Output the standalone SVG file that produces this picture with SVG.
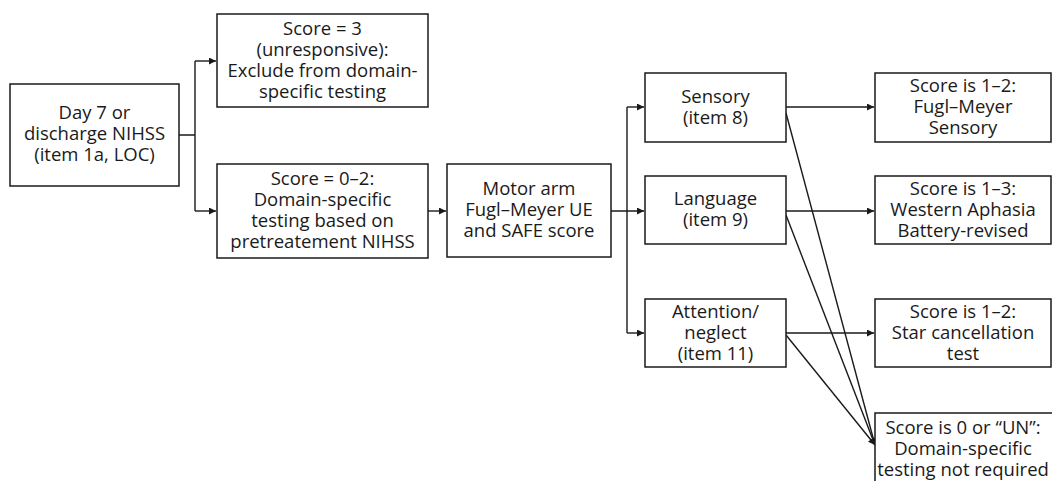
<svg xmlns="http://www.w3.org/2000/svg" width="1052" height="481" viewBox="0 0 1052 481">
  <defs>
    <style>
      .box { fill: #ffffff; stroke: #1a1a1a; stroke-width: 1.5; }
      .lbl { font-family: "Open Sans", "Noto Sans", "Liberation Sans", sans-serif; font-size: 18.5px; fill: #1a1a1a; text-anchor: middle; }
      .wire { fill: none; stroke: #1a1a1a; stroke-width: 1.4; }
      .arrow { marker-end: url(#head); }
    </style>
    <marker id="head" viewBox="0 0 10 10" refX="10" refY="5" markerWidth="7" markerHeight="7" markerUnits="userSpaceOnUse" orient="auto">
      <path d="M0,0 L10,5 L0,10 z" fill="#1a1a1a"/>
    </marker>
  </defs>
  <rect width="1052" height="481" fill="#ffffff"/>

  <!-- connectors -->
  <g id="connectors">
    <path class="wire" d="M179,135 H195 M195,61 V211"/>
    <path class="wire arrow" d="M195,61 H216"/>
    <path class="wire arrow" d="M195,211 H216"/>
    <path class="wire arrow" d="M428,211 H446"/>
    <path class="wire arrow" d="M611,211 H644"/>
    <path class="wire" d="M627,107 V333"/>
    <path class="wire arrow" d="M627,107 H644"/>
    <path class="wire arrow" d="M627,333 H644"/>
    <path class="wire arrow" d="M786,107 H874"/>
    <path class="wire arrow" d="M786,211 H874"/>
    <path class="wire arrow" d="M786,333 H874"/>
    <path class="wire arrow" d="M786,113 L875,445"/>
    <path class="wire arrow" d="M786,215 L875,445"/>
    <path class="wire arrow" d="M786,335 L875,445"/>
  </g>

  <g id="nihss-day7">
    <rect class="box" x="10" y="84" width="169" height="102"/>
    <text class="lbl" x="94.5" y="119">Day 7 or</text>
    <text class="lbl" x="94.5" y="140">discharge NIHSS</text>
    <text class="lbl" x="94.5" y="161">(item 1a, LOC)</text>
  </g>

  <g id="score-3">
    <rect class="box" x="217" y="14" width="211" height="93"/>
    <text class="lbl" x="322.5" y="35">Score = 3</text>
    <text class="lbl" x="322.5" y="56">(unresponsive):</text>
    <text class="lbl" x="322.5" y="77">Exclude from domain-</text>
    <text class="lbl" x="322.5" y="98">specific testing</text>
  </g>

  <g id="score-0-2">
    <rect class="box" x="217" y="164" width="211" height="94"/>
    <text class="lbl" x="322.5" y="185">Score = 0–2:</text>
    <text class="lbl" x="322.5" y="206">Domain-specific</text>
    <text class="lbl" x="322.5" y="227">testing based on</text>
    <text class="lbl" x="322.5" y="248">pretreatement NIHSS</text>
  </g>

  <g id="motor">
    <rect class="box" x="447" y="164" width="164" height="93"/>
    <text class="lbl" x="529" y="195">Motor arm</text>
    <text class="lbl" x="529" y="216">Fugl–Meyer UE</text>
    <text class="lbl" x="529" y="237">and SAFE score</text>
  </g>

  <g id="sensory">
    <rect class="box" x="645" y="73" width="141" height="69"/>
    <text class="lbl" x="715.5" y="103">Sensory</text>
    <text class="lbl" x="715.5" y="124">(item 8)</text>
  </g>

  <g id="language">
    <rect class="box" x="645" y="176" width="141" height="68"/>
    <text class="lbl" x="715.5" y="205">Language</text>
    <text class="lbl" x="715.5" y="226">(item 9)</text>
  </g>

  <g id="attention">
    <rect class="box" x="645" y="299" width="141" height="68"/>
    <text class="lbl" x="715.5" y="318">Attention/</text>
    <text class="lbl" x="715.5" y="339">neglect</text>
    <text class="lbl" x="715.5" y="360">(item 11)</text>
  </g>

  <g id="fm-sensory">
    <rect class="box" x="875" y="73" width="176" height="69"/>
    <text class="lbl" x="963" y="92">Score is 1–2:</text>
    <text class="lbl" x="963" y="113">Fugl–Meyer</text>
    <text class="lbl" x="963" y="134">Sensory</text>
  </g>

  <g id="wab">
    <rect class="box" x="875" y="176" width="176" height="68"/>
    <text class="lbl" x="963" y="195">Score is 1–3:</text>
    <text class="lbl" x="963" y="216">Western Aphasia</text>
    <text class="lbl" x="963" y="237">Battery-revised</text>
  </g>

  <g id="star">
    <rect class="box" x="875" y="299" width="176" height="68"/>
    <text class="lbl" x="963" y="318">Score is 1–2:</text>
    <text class="lbl" x="963" y="339">Star cancellation</text>
    <text class="lbl" x="963" y="360">test</text>
  </g>

  <g id="not-required">
    <rect class="box" x="875" y="413" width="182" height="80"/>
    <text class="lbl" x="963" y="434">Score is 0 or “UN”:</text>
    <text class="lbl" x="963" y="455">Domain-specific</text>
    <text class="lbl" x="963" y="476">testing not required</text>
  </g>
</svg>
